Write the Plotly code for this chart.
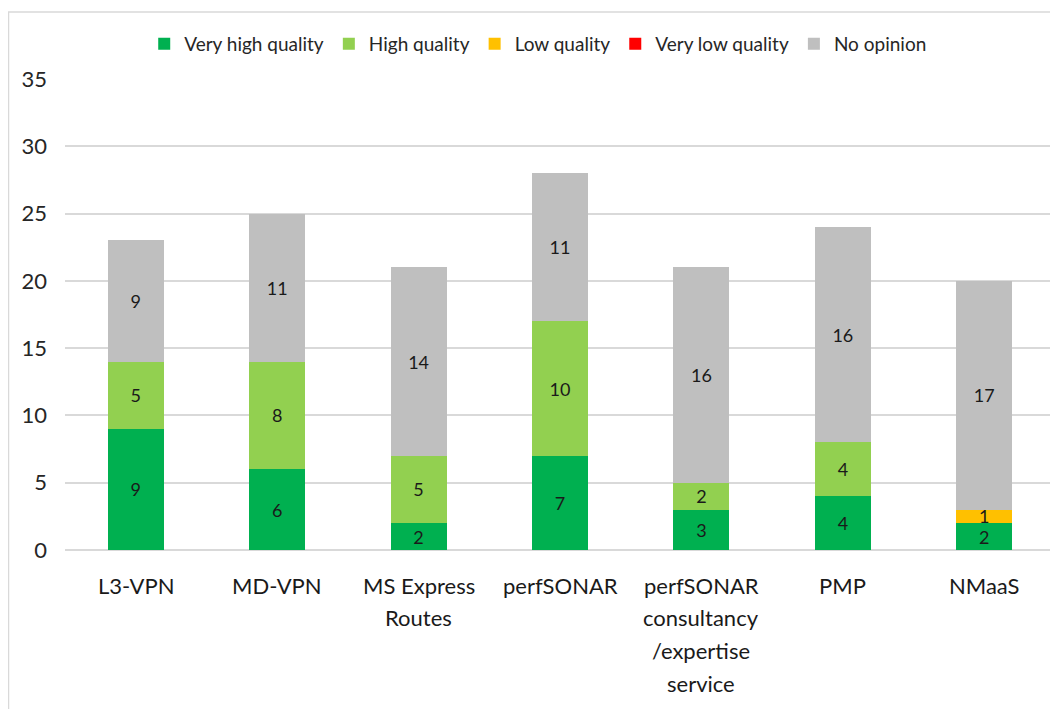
import plotly.graph_objects as go

categories = ["L3-VPN", "MD-VPN", "MS Express<br>Routes", "perfSONAR",
              "perfSONAR<br>consultancy<br>/expertise<br>service", "PMP", "NMaaS"]
very_high = [9, 6, 2, 7, 3, 4, 2]
high = [5, 8, 5, 10, 2, 4, 0]
low = [0, 0, 0, 0, 0, 0, 1]
very_low = [0, 0, 0, 0, 0, 0, 0]
no_opinion = [9, 11, 14, 11, 16, 16, 17]

series = [
    ("Very high quality", very_high, "#00b050"),
    ("High quality", high, "#92d050"),
    ("Low quality", low, "#ffc000"),
    ("Very low quality", very_low, "#ff0000"),
    ("No opinion", no_opinion, "#bfbfbf"),
]

FONT = "Lato, Calibri, Carlito, sans-serif"

fig = go.Figure()
for name, vals, color in series:
    fig.add_trace(go.Bar(
        name=name, x=categories, y=vals, marker_color=color,
        marker_line_width=0,
        text=[str(v) if v else "" for v in vals],
        textposition="inside", insidetextanchor="middle", textangle=0,
        textfont=dict(size=18, color="#1a1a1a", family=FONT),
        constraintext="none",
    ))

# category labels drawn line by line (Excel-like line spacing)
for cat in categories:
    for i, line in enumerate(cat.split("<br>")):
        fig.add_annotation(x=cat, y=0, xref="x", yref="y", text=line,
                           showarrow=False, yanchor="middle", xanchor="center",
                           yshift=-(35 + 32.7 * i),
                           font=dict(size=22, family=FONT, color="#1a1a1a"))

# page is offset by the 8px body margin
W, H = 1050, 701
l, r, t, b = 57, 3, 71, 159
pw, ph = W - l - r, H - t - b

def px_x(px):
    return (px - l) / pw

def px_y(py):
    return (H - b - py) / ph

fig.add_shape(type="rect", xref="paper", yref="paper",
              x0=px_x(0.5), x1=px_x(1060), y0=px_y(712), y1=px_y(4),
              line=dict(color="#d9d9d9", width=1.5), layer="below")

fig.update_layout(
    width=W, height=H,
    barmode="stack", bargap=0.604,
    margin=dict(l=l, r=r, t=t, b=b, autoexpand=False),
    paper_bgcolor="white", plot_bgcolor="white",
    font=dict(family=FONT, color="#1a1a1a"),
    uniformtext=dict(minsize=18, mode="show"),
    showlegend=True,
    legend=dict(orientation="h", x=0.478, xanchor="center",
                y=px_y(36), yanchor="middle",
                font=dict(size=19, family=FONT, color="#262626"),
                itemwidth=30, tracegroupgap=0, traceorder="normal"),
    xaxis=dict(showgrid=False, showline=False, ticks="", showticklabels=False),
    yaxis=dict(range=[0, 35], dtick=5, showgrid=True, gridcolor="#d9d9d9",
               gridwidth=1.5, zeroline=True, zerolinecolor="#d9d9d9",
               zerolinewidth=1.5, showline=False,
               tickfont=dict(size=22, family=FONT, color="#262626"),
               ticklabelstandoff=17),
)

fig.write_html("out.html")
